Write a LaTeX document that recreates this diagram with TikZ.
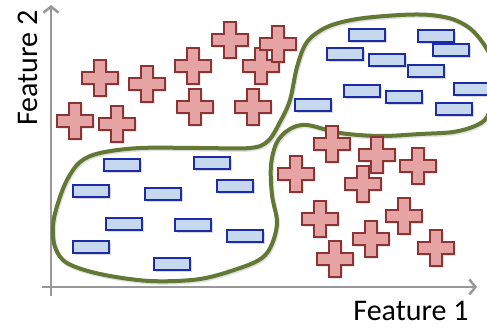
\documentclass[tikz,border=0pt]{standalone}
\usepackage{fontspec}
\setmainfont{Carlito}
\usetikzlibrary{arrows.meta, shadows}

\definecolor{crossfill}{RGB}{230,163,163}
\definecolor{crossline}{RGB}{140,52,52}
\definecolor{barfill}{RGB}{197,216,237}
\definecolor{barline}{RGB}{28,44,168}
\definecolor{blobgreen}{RGB}{98,120,52}
\definecolor{axisgray}{RGB}{152,152,152}

\begin{document}
\begin{tikzpicture}[x=1pt, y=-1pt,
  axisline/.style={line width=2.5pt, draw=axisgray, -{Straight Barb[length=6pt, width=15pt, line width=2.5pt]}},
  plusmark/.style={fill=crossfill, draw=crossline, line width=1.2pt,
    drop shadow={opacity=0.3, shadow xshift=1.5pt, shadow yshift=-1.5pt}},
  bluebar/.style={fill=barfill, draw=barline, line width=1.3pt,
    drop shadow={opacity=0.3, shadow xshift=1.5pt, shadow yshift=-1.5pt}},
  blob/.style={draw=blobgreen, line width=4pt},
  label/.style={font=\fontsize{30}{36}\selectfont, inner sep=0pt}]
\useasboundingbox (0,0) rectangle (487,327);
\clip (0,0) rectangle (487,327);

% axes
\coordinate (o1) at (42,287);
\coordinate (xend) at (477,287);
\coordinate (o2) at (51,296);
\coordinate (yend) at (51,5);
\draw[axisline] (o1) -- (xend);
\draw[axisline] (o2) -- (yend);
\node[label, anchor=base] (f1) at (411,320) {Feature 1};
\node[label, anchor=base, rotate=90] (f2) at (37,68) {Feature 2};

% the two classes, one boundary
\draw[blob, black, opacity=0.12, shift={(1,1.5)}] plot[smooth cycle, tension=0.55] coordinates {
  (100,153) (140,148) (200,148) (250,148) (268,141) (280,122) (290,100) (297,67)
  (307,42) (327,27) (357,19) (400,15) (430,15) (455,20) (475,33) (492,60)
  (494,95) (487,117) (475,126) (453,132) (420,134) (380,136) (340,133) (307,125)
  (290,129) (277,142) (271,165) (272,195) (277,222) (272,244) (262,258) (240,268)
  (200,279) (150,281) (100,274) (67,263) (55,247) (53,225) (58,203) (67,180) (80,162)};
\draw[blob] plot[smooth cycle, tension=0.55] coordinates {
  (100,153) (140,148) (200,148) (250,148) (268,141) (280,122) (290,100) (297,67)
  (307,42) (327,27) (357,19) (400,15) (430,15) (455,20) (475,33) (492,60)
  (494,95) (487,117) (475,126) (453,132) (420,134) (380,136) (340,133) (307,125)
  (290,129) (277,142) (271,165) (272,195) (277,222) (272,244) (262,258) (240,268)
  (200,279) (150,281) (100,274) (67,263) (55,247) (53,225) (58,203) (67,180) (80,162)};

% blue bars
\foreach \x/\y in {367/35, 436/36, 451/50, 345/54, 387/60, 426/71, 362/91, 404/97,
    472/89, 454/109, 313/105,
    122/165, 212/163, 91/191, 163/194, 235/186, 124/224, 193/225, 245/236,
    91/247, 172/264}
  \draw[bluebar] (\x,\y) ++(-18,-6) rectangle ++(36,12);

% pink crosses
\foreach \x/\y in {100/78, 147/84, 75/121, 117/124, 193/66, 195/107, 230/40,
    261/66, 278/44, 253/107,
    332/144, 377/155, 418/166, 296/174, 363/184, 320/219, 404/216, 371/239,
    436/248, 335/259}
  \draw[plusmark] (\x,\y) ++(-6,-18) -- ++(12,0) -- ++(0,12) -- ++(12,0) -- ++(0,12)
    -- ++(-12,0) -- ++(0,12) -- ++(-12,0) -- ++(0,-12) -- ++(-12,0) -- ++(0,-12)
    -- ++(12,0) -- cycle;
\end{tikzpicture}
\end{document}
